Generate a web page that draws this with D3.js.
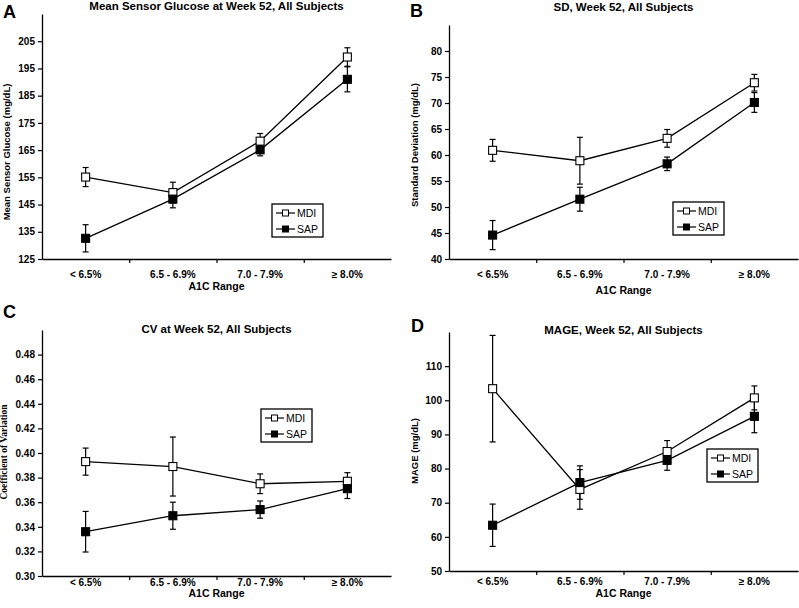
<!DOCTYPE html>
<html>
<head>
<meta charset="utf-8">
<script src="https://cdn.jsdelivr.net/npm/d3@7"></script>
<style>
body { margin: 0; background: #fff; }
text { font-family: Arial, "Liberation Sans", sans-serif; fill: #000; }
</style>
</head>
<body>
<script>
const categories = ["< 6.5%", "6.5 - 6.9%", "7.0 - 7.9%", "≥ 8.0%"];
const seriesNames = ["MDI", "SAP"];

// A - mean sensor glucose
const glucoseMDI = [155.1, 149.4, 168.3, 199.2];
const glucoseMDIErr = [3.5, 3.8, 2.8, 3.4];
const glucoseSAP = [132.6, 147.0, 165.1, 191.0];
const glucoseSAPErr = [5.0, 3.2, 2.2, 4.6];
const glucoseTicks = [125, 135, 145, 155, 165, 175, 185, 195, 205];

// B - standard deviation
const sdMDI = [60.9, 58.9, 63.2, 73.9];
const sdMDIErr = [2.1, 4.5, 1.7, 1.6];
const sdSAP = [44.6, 51.5, 58.3, 70.1];
const sdSAPErr = [2.8, 2.3, 1.3, 1.9];
const sdTicks = [40, 45, 50, 55, 60, 65, 70, 75, 80];

// C - coefficient of variation
const cvMDI = [0.393, 0.389, 0.375, 0.377];
const cvMDIErr = [0.011, 0.024, 0.008, 0.007];
const cvSAP = [0.336, 0.349, 0.354, 0.371];
const cvSAPErr = [0.0165, 0.011, 0.007, 0.008];
const cvTicks = [0.30, 0.32, 0.34, 0.36, 0.38, 0.40, 0.42, 0.44, 0.46, 0.48];

// D - MAGE
const mageMDI = [103.4, 73.9, 85.0, 100.7];
const mageMDIErr = [15.6, 5.8, 3.2, 3.5];
const mageSAP = [63.4, 75.9, 82.4, 95.3];
const mageSAPErr = [6.2, 4.9, 2.9, 4.8];
const mageTicks = [50, 60, 70, 80, 90, 100, 110];

const svg = d3.select("body").append("svg")
  .attr("width", 799)
  .attr("height", 608);

const panels = [
  { letter: "A", lx: 3, ly: 18, title: "Mean Sensor Glucose at Week 52, All Subjects", ty: 10,
    ylabel: "Mean Sensor Glucose (mg/dL)", ylx: 10, yly: 152,
    left: 42, right: 391, top: 14, bottom: 259, domain: [125, 215], ticks: glucoseTicks, fmt: d3.format("d"),
    mdi: glucoseMDI, mdiErr: glucoseMDIErr, sap: glucoseSAP, sapErr: glucoseSAPErr,
    tickY: 278, xlabY: 290, legend: [272, 204] },
  { letter: "B", lx: 410, ly: 17, title: "SD, Week 52, All Subjects", ty: 11,
    ylabel: "Standard Deviation (mg/dL)", ylx: 418, yly: 145,
    left: 449, right: 798, top: 25, bottom: 259, domain: [40, 85], ticks: sdTicks, fmt: d3.format("d"),
    mdi: sdMDI, mdiErr: sdMDIErr, sap: sdSAP, sapErr: sdSAPErr,
    tickY: 278, xlabY: 294, legend: [673, 202] },
  { letter: "C", lx: 3, ly: 318, title: "CV at Week 52, All Subjects", ty: 333,
    ylabel: "Coefficient of Variation", ylx: 7, yly: 452, serif: true,
    left: 42, right: 391, top: 330, bottom: 576, domain: [0.30, 0.50], ticks: cvTicks, fmt: d3.format(".2f"),
    mdi: cvMDI, mdiErr: cvMDIErr, sap: cvSAP, sapErr: cvSAPErr,
    tickY: 586, xlabY: 597, legend: [261, 409] },
  { letter: "D", lx: 411, ly: 332, title: "MAGE, Week 52, All Subjects", ty: 334,
    ylabel: "MAGE (mg/dL)", ylx: 418, yly: 451,
    left: 449, right: 798, top: 332, bottom: 571, domain: [50, 120], ticks: mageTicks, fmt: d3.format("d"),
    mdi: mageMDI, mdiErr: mageMDIErr, sap: mageSAP, sapErr: mageSAPErr,
    tickY: 585, xlabY: 597, legend: [707, 449] }
];

panels.forEach(drawPanel);

function drawPanel(p) {
  const g = svg.append("g");
  const x = d3.scaleBand().domain(categories).range([p.left, p.right]);
  const xb = d3.scaleLinear().domain([0, categories.length]).range([p.left, p.right]);
  const y = d3.scaleLinear().domain(p.domain).range([p.bottom, p.top]);
  const cx = d => x(d) + x.bandwidth() / 2;

  // y axis
  const yAxis = g.append("g")
    .attr("transform", `translate(${p.left},0)`)
    .call(d3.axisLeft(y).tickValues(p.ticks).tickFormat(p.fmt).tickSize(4).tickSizeOuter(0).tickPadding(3));
  yAxis.select(".domain").attr("stroke", "#000").attr("stroke-width", 1.3);
  yAxis.selectAll(".tick line").attr("stroke", "#000").attr("stroke-width", 1.2);
  yAxis.selectAll("text").attr("font-size", 10).attr("font-weight", "bold").attr("fill", "#000")
    .style("font-family", "Arial, 'Liberation Sans', sans-serif");

  // x axis line with boundary ticks
  const xAxis = g.append("g")
    .attr("transform", `translate(0,${p.bottom})`)
    .call(d3.axisBottom(xb).tickValues([1, 2, 3]).tickFormat("").tickSize(4).tickSizeOuter(0));
  xAxis.select(".domain").attr("stroke", "#000").attr("stroke-width", 1.3);
  xAxis.selectAll(".tick line").attr("stroke", "#000").attr("stroke-width", 1.2);

  // category labels
  g.selectAll("text.cat").data(categories).join("text")
    .attr("class", "cat")
    .attr("x", d => cx(d))
    .attr("y", p.tickY)
    .attr("text-anchor", "middle")
    .attr("font-size", 10)
    .attr("font-weight", "bold")
    .text(d => d);

  g.append("text")
    .attr("x", (p.left + p.right) / 2)
    .attr("y", p.xlabY)
    .attr("text-anchor", "middle")
    .attr("font-size", 10.5)
    .attr("font-weight", "bold")
    .text("A1C Range");

  g.append("text")
    .attr("transform", `translate(${p.ylx},${p.yly}) rotate(-90)`)
    .attr("text-anchor", "middle")
    .attr("font-size", 9.5)
    .attr("font-weight", "bold")
    .style("font-family", p.serif ? "'Liberation Serif', 'Times New Roman', serif" : null)
    .text(p.ylabel);

  g.append("text")
    .attr("x", (p.left + p.right) / 2)
    .attr("y", p.ty)
    .attr("text-anchor", "middle")
    .attr("font-size", 11.5)
    .attr("font-weight", "bold")
    .text(p.title);

  g.append("text")
    .attr("x", p.lx)
    .attr("y", p.ly)
    .attr("font-size", 18)
    .attr("font-weight", "bold")
    .text(p.letter);

  const series = [
    { name: "MDI", vals: p.mdi, err: p.mdiErr, fill: "#fff" },
    { name: "SAP", vals: p.sap, err: p.sapErr, fill: "#000" }
  ];

  const line = d3.line().x(d => cx(d.cat)).y(d => y(d.v));

  series.forEach(s => {
    const pts = categories.map((c, i) => ({ cat: c, v: s.vals[i], e: s.err[i] }));

    const eb = g.append("g");
    eb.selectAll("line.bar").data(pts).join("line")
      .attr("x1", d => cx(d.cat)).attr("x2", d => cx(d.cat))
      .attr("y1", d => y(d.v - d.e)).attr("y2", d => y(d.v + d.e))
      .attr("stroke", "#000").attr("stroke-width", 1.2);
    eb.selectAll("line.top").data(pts).join("line")
      .attr("x1", d => cx(d.cat) - 3).attr("x2", d => cx(d.cat) + 3)
      .attr("y1", d => y(d.v + d.e)).attr("y2", d => y(d.v + d.e))
      .attr("stroke", "#000").attr("stroke-width", 1.2);
    eb.selectAll("line.bot").data(pts).join("line")
      .attr("x1", d => cx(d.cat) - 3).attr("x2", d => cx(d.cat) + 3)
      .attr("y1", d => y(d.v - d.e)).attr("y2", d => y(d.v - d.e))
      .attr("stroke", "#000").attr("stroke-width", 1.2);

    g.append("path").datum(pts)
      .attr("d", line)
      .attr("fill", "none")
      .attr("stroke", "#000")
      .attr("stroke-width", 1.3);

    s.pts = pts;
  });

  series.forEach(s => {
    g.selectAll(null).data(s.pts).join("rect")
      .attr("x", d => cx(d.cat) - 4)
      .attr("y", d => y(d.v) - 4)
      .attr("width", 8).attr("height", 8)
      .attr("fill", s.fill)
      .attr("stroke", "#000")
      .attr("stroke-width", 1.1);
  });

  // legend
  const lg = g.append("g").attr("transform", `translate(${p.legend[0]},${p.legend[1]})`);
  lg.append("rect").attr("x", 0).attr("y", 0).attr("width", 51).attr("height", 33)
    .attr("fill", "#fff").attr("stroke", "#000").attr("stroke-width", 1.3);
  series.forEach((s, i) => {
    const ry = 9 + i * 16;
    lg.append("line").attr("x1", 4).attr("x2", 23).attr("y1", ry).attr("y2", ry)
      .attr("stroke", "#000").attr("stroke-width", 1.2);
    lg.append("rect").attr("x", 10.5).attr("y", ry - 3).attr("width", 6).attr("height", 6)
      .attr("fill", s.fill).attr("stroke", "#000").attr("stroke-width", 1);
    lg.append("text").attr("x", 25).attr("y", ry + 4).attr("font-size", 10.5).text(s.name);
  });
}
</script>
</body>
</html>
